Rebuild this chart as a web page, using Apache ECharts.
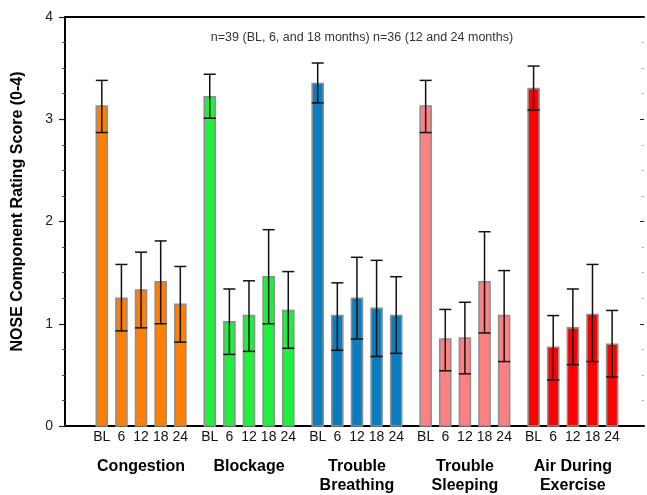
<!DOCTYPE html>
<html>
<head>
<meta charset="utf-8" />
<title></title>
<script src="https://cdn.jsdelivr.net/npm/echarts@6/dist/echarts.min.js"></script>
<style>
html, body { margin: 0; padding: 0; background: #fff; }
#chart { width: 647px; height: 495px; }
</style>
</head>
<body>
<div id="chart"></div>
<script>
var groups = ['Congestion', 'Blockage', 'Trouble\nBreathing', 'Trouble\nSleeping', 'Air During\nExercise'];
var timepoints = ['BL', '6', '12', '18', '24'];
var colors = ['#ff8000', '#1ef03c', '#0a7dc0', '#ff8080', '#ff0000'];

// mean scores per group (BL, 6, 12, 18, 24 months)
var congestion = [3.13, 1.25, 1.33, 1.41, 1.19];
var blockage = [3.22, 1.02, 1.08, 1.46, 1.13];
var breathing = [3.35, 1.08, 1.25, 1.15, 1.08];
var sleeping = [3.13, 0.85, 0.86, 1.41, 1.08];
var exercise = [3.30, 0.77, 0.96, 1.09, 0.80];

// error bar ends
var congestionHi = [3.38, 1.58, 1.70, 1.81, 1.56];
var congestionLo = [2.87, 0.93, 0.96, 1.00, 0.82];
var blockageHi = [3.44, 1.34, 1.42, 1.92, 1.51];
var blockageLo = [3.01, 0.70, 0.73, 1.00, 0.76];
var breathingHi = [3.55, 1.40, 1.65, 1.62, 1.46];
var breathingLo = [3.16, 0.74, 0.85, 0.68, 0.71];
var sleepingHi = [3.38, 1.14, 1.21, 1.90, 1.52];
var sleepingLo = [2.87, 0.54, 0.51, 0.91, 0.63];
var exerciseHi = [3.52, 1.08, 1.34, 1.58, 1.13];
var exerciseLo = [3.09, 0.45, 0.60, 0.63, 0.48];

var yTicks = [0, 1, 2, 3, 4];

var means = [congestion, blockage, breathing, sleeping, exercise];
var his = [congestionHi, blockageHi, breathingHi, sleepingHi, exerciseHi];
var los = [congestionLo, blockageLo, breathingLo, sleepingLo, exerciseLo];

// slot position on the x value axis: 11 units per group, 2 per bar
function slot(g, i) { return g * 11 + 2 * i + 1; }

var font = '"Liberation Sans", Arial, sans-serif';
var series = [];

means.forEach(function (m, g) {
	var col = colors[g];
	series.push({
		type: 'custom',
		xAxisIndex: 0,
		data: m.map(function (v, i) { return [slot(g, i), v]; }),
		renderItem: function (params, api) {
			var p0 = api.coord([api.value(0), 0]);
			var p1 = api.coord([api.value(0), api.value(1)]);
			return {
				type: 'rect',
				shape: { x: p1[0] - 5.5, y: p1[1], width: 11, height: p0[1] - p1[1] },
				style: { fill: col, stroke: '#8f8f8f', lineWidth: 1.6 }
			};
		},
		z: 2
	});
	series.push({
		type: 'custom',
		xAxisIndex: 0,
		data: m.map(function (v, i) { return [slot(g, i), los[g][i], his[g][i]]; }),
		renderItem: function (params, api) {
			var lo = api.coord([api.value(0), api.value(1)]);
			var hi = api.coord([api.value(0), api.value(2)]);
			var st = { stroke: '#111', lineWidth: 1.5 };
			return {
				type: 'group',
				children: [
					{ type: 'line', shape: { x1: hi[0], y1: hi[1], x2: lo[0], y2: lo[1] }, style: st },
					{ type: 'line', shape: { x1: hi[0] - 6, y1: hi[1], x2: hi[0] + 6, y2: hi[1] }, style: st },
					{ type: 'line', shape: { x1: lo[0] - 6, y1: lo[1], x2: lo[0] + 6, y2: lo[1] }, style: st }
				]
			};
		},
		z: 3
	});
});

var chart = echarts.init(document.getElementById('chart'));
chart.setOption({
	animation: false,
	textStyle: { fontFamily: font },
	title: {
		text: 'n=39 (BL, 6, and 18 months) n=36 (12 and 24 months)',
		left: 357,
		textAlign: 'center',
		top: 26,
		textStyle: { fontSize: 12.5, fontWeight: 'normal', color: '#333', fontFamily: font }
	},
	grid: { left: 65, right: 1, top: 17, bottom: 68 },
	xAxis: [{
		type: 'value',
		min: -2.75, max: 56.25, interval: 0.25,
		splitLine: { show: false },
		axisTick: { show: false },
		axisLine: { onZero: false, lineStyle: { color: '#000', width: 2 } },
		axisLabel: {
			show: true, margin: 4, fontSize: 14, color: '#111', fontFamily: font,
			formatter: function (v) {
				var r = Math.round(v * 4) / 4;
				if (r !== Math.round(r)) return '';
				var g = Math.floor(r / 11), k = r - g * 11;
				if (g >= 0 && g < 5 && k % 2 === 1 && k <= 9) return timepoints[(k - 1) / 2];
				return '';
			}
		}
	}, {
		type: 'value',
		position: 'bottom',
		min: -2.75, max: 56.25, interval: 0.25,
		splitLine: { show: false },
		axisTick: { show: false },
		axisLine: { show: false, onZero: false },
		axisLabel: {
			show: true, margin: 31, fontSize: 16, fontWeight: 'bold', color: '#000',
			lineHeight: 19, fontFamily: font,
			formatter: function (v) {
				var r = Math.round(v * 4) / 4;
				if (r !== Math.round(r)) return '';
				var g = Math.floor(r / 11), k = r - g * 11;
				if (g >= 0 && g < 5 && k === 5) return groups[g];
				return '';
			}
		}
	}, {
		type: 'value',
		position: 'top',
		min: -2.75, max: 56.25,
		splitLine: { show: false },
		axisTick: { show: false },
		axisLabel: { show: false },
		axisLine: { onZero: false, lineStyle: { color: '#000', width: 2 } }
	}],
	yAxis: [{
		type: 'value',
		min: 0, max: 4, interval: 1,
		name: 'NOSE Component Rating Score (0-4)',
		nameLocation: 'middle',
		nameGap: 39,
		nameTextStyle: { fontSize: 16, fontWeight: 'bold', color: '#000', fontFamily: font, padding: [0, 0, 0, 20] },
		splitLine: { show: false },
		axisLine: { show: true, onZero: false, lineStyle: { color: '#000', width: 2 } },
		axisTick: { show: true, length: 6, lineStyle: { color: '#222', width: 1.2 } },
		minorTick: { show: true, splitNumber: 4, length: 3, lineStyle: { color: '#555' } },
		axisLabel: {
			margin: 12, fontSize: 14, color: '#222', fontFamily: font,
			formatter: function (v) { return yTicks.indexOf(v) >= 0 ? String(v) : ''; }
		}
	}, {
		type: 'value',
		position: 'right',
		min: 0, max: 4, interval: 1,
		splitLine: { show: false },
		axisLine: { show: false, onZero: false },
		axisLabel: { show: false },
		axisTick: { show: true, inside: true, length: 4, lineStyle: { color: '#222' } },
		minorTick: { show: true, splitNumber: 4, length: 2, lineStyle: { color: '#aaa' } }
	}],
	series: series
});
</script>
</body>
</html>
